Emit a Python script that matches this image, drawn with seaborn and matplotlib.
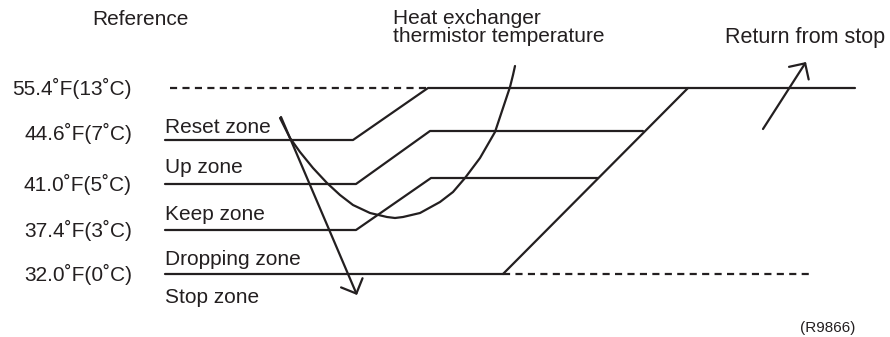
import matplotlib
matplotlib.use("Agg")
import matplotlib.pyplot as plt
import pandas as pd
import seaborn as sns

# Threshold rows of the frost-prevention diagram (top to bottom)
level_labels = ["55.4˚F(13˚C)", "44.6˚F(7˚C)", "41.0˚F(5˚C)", "37.4˚F(3˚C)", "32.0˚F(0˚C)"]
level_rows = [88, 140, 184, 230, 274]
zone_labels = ["Reset zone", "Up zone", "Keep zone", "Dropping zone", "Stop zone"]
zone_rows = [133, 173, 220, 265, 303]

# Solid boundary lines (diagram units, x to the right, y downward)
reset_x = [165, 353, 428, 855]
reset_y = [140, 140, 88, 88]
up_x = [165, 356, 430, 643]
up_y = [184, 184, 131, 131]
keep_x = [165, 356, 431, 598]
keep_y = [230, 230, 178, 178]
drop_x = [165, 503]
drop_y = [274, 274]
return_x = [503, 688]
return_y = [274, 88]

# Dashed extensions
top_dash_x = [170, 428]
top_dash_y = [88, 88]
bottom_dash_x = [503, 813]
bottom_dash_y = [274, 274]

# Heat exchanger thermistor temperature trace
curve_x = [280, 290, 300, 313, 327, 340, 353, 370, 387, 395, 403, 420, 440, 453, 465,
           480, 495, 503, 510, 513, 515]
curve_y = [118, 138, 152, 168, 183, 195, 205, 213, 217, 218, 217, 213, 202, 192, 178,
           158, 132, 108, 87, 75, 66]

ink = "#231f20"

sns.set_theme(style="white")
plt.rcParams["font.family"] = ["Liberation Sans", "DejaVu Sans"]

fig = plt.figure(figsize=(8.9, 3.37), dpi=100)
ax = fig.add_axes([0, 0, 1, 1])

solid = pd.concat([
    pd.DataFrame({"x": xs, "y": ys, "seg": name})
    for name, xs, ys in [
        ("reset", reset_x, reset_y),
        ("up", up_x, up_y),
        ("keep", keep_x, keep_y),
        ("drop", drop_x, drop_y),
        ("return", return_x, return_y),
        ("curve", curve_x, curve_y),
    ]
], ignore_index=True)
sns.lineplot(data=solid, x="x", y="y", units="seg", estimator=None, sort=False,
             color=ink, lw=1.6, ax=ax, legend=False)
for ln in ax.lines:
    ln.set_solid_joinstyle("round")

dashed = pd.concat([
    pd.DataFrame({"x": top_dash_x, "y": top_dash_y, "seg": "top"}),
    pd.DataFrame({"x": bottom_dash_x, "y": bottom_dash_y, "seg": "bottom"}),
], ignore_index=True)
sns.lineplot(data=dashed, x="x", y="y", units="seg", estimator=None, sort=False,
             color=ink, lw=1.6, ax=ax, legend=False, dashes=False)
for ln in ax.lines[-2:]:
    ln.set_dashes((3.2, 2.4))

# Arrows
arrow_kw = dict(arrowstyle="->,head_length=0.4,head_width=0.4", color=ink,
                lw=1.6, mutation_scale=21, shrinkA=0, shrinkB=0)
ax.annotate("", xy=(357, 295), xytext=(281, 117), arrowprops=arrow_kw)
ax.annotate("", xy=(806, 62), xytext=(763, 129), arrowprops=arrow_kw)

fs = 15
for lab, row in zip(level_labels, level_rows):
    off = 7 if row != 140 else 0
    ax.text(132, row + off, lab, ha="right", va="baseline", fontsize=fs, color=ink)
for lab, row in zip(zone_labels, zone_rows):
    ax.text(165, row, lab, ha="left", va="baseline", fontsize=fs, color=ink)

ax.text(140, 25, "Reference", ha="center", va="baseline", fontsize=fs, color=ink)
ax.text(393, 24, "Heat exchanger", ha="left", va="baseline", fontsize=fs, color=ink)
ax.text(393, 42, "thermistor temperature", ha="left", va="baseline", fontsize=fs, color=ink)
ax.text(725, 43, "Return from stop", ha="left", va="baseline", fontsize=15.5, color=ink)
ax.text(855, 332, "(R9866)", ha="right", va="baseline", fontsize=11, color=ink)

ax.set_xlim(0, 890)
ax.set_ylim(337, 0)
ax.axis("off")
fig.savefig("out.png", dpi=100, facecolor="white")
